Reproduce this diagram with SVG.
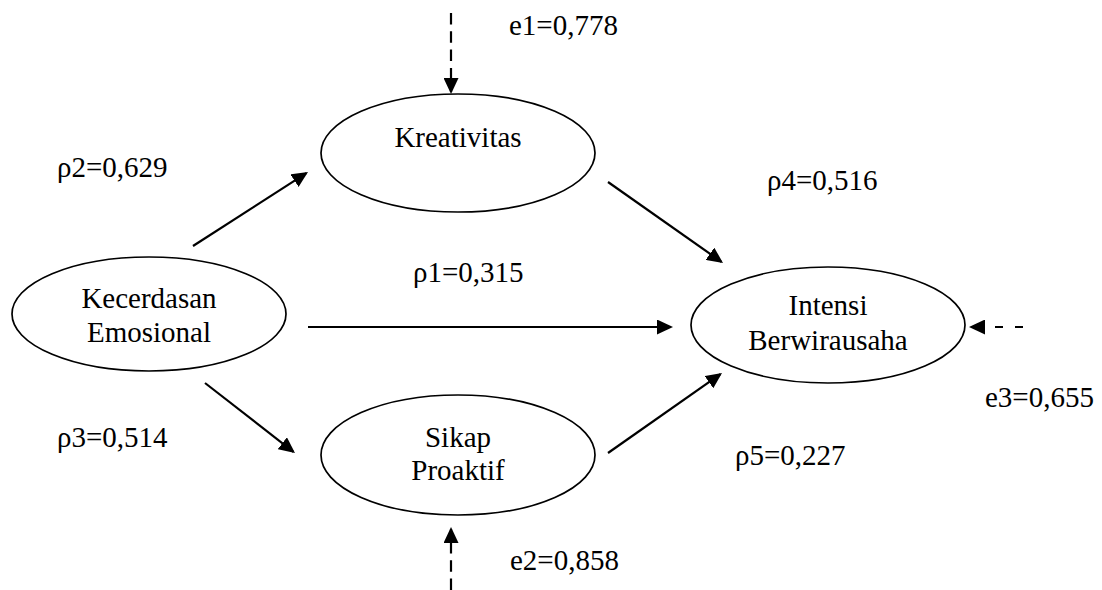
<svg xmlns="http://www.w3.org/2000/svg" width="1102" height="590" viewBox="0 0 1102 590">
<style>
  .node ellipse { fill: #fff; stroke: #000; stroke-width: 1.7; }
  text { font-family: 'Liberation Serif', 'DejaVu Serif', serif; font-size: 29px; fill: #000; }
  .c { text-anchor: middle; }
  .edge { stroke: #000; stroke-width: 2.2; fill: none; marker-end: url(#ah); }
  .dash { stroke-dasharray: 11.5 6.8; }
</style>
<defs>
  <marker id="ah" markerUnits="userSpaceOnUse" markerWidth="16" markerHeight="15" refX="14" refY="7.5" orient="auto" viewBox="0 0 16 15">
    <path d="M0,0 L16,7.5 L0,15 z" fill="#000"/>
  </marker>
</defs>
<rect width="1102" height="590" fill="#fff"/>
<g id="connectors">
  <line class="edge" x1="193" y1="246" x2="306.3" y2="173.1"/>
  <line class="edge" x1="608" y1="182" x2="721.4" y2="261.8"/>
  <line class="edge" x1="308" y1="327" x2="671" y2="327"/>
  <line class="edge" x1="205" y1="383" x2="293.4" y2="451.8"/>
  <line class="edge" x1="608" y1="453" x2="720.4" y2="374.1"/>
  <line class="edge dash" x1="451" y1="13" x2="451" y2="92"/>
  <line class="edge" style="stroke-dasharray:8 12" x1="1023" y1="327" x2="971" y2="327"/>
  <line class="edge dash" x1="451" y1="590" x2="451" y2="529"/>
</g>
<g id="kreativitas" class="node">
  <ellipse cx="458" cy="153" rx="137" ry="59"/>
  <text class="c" x="458" y="147" font-family="Liberation Serif, serif">Kreativitas</text>
</g>
<g id="kecerdasan" class="node">
  <ellipse cx="149" cy="314" rx="137" ry="57"/>
  <text class="c" x="149" y="308">Kecerdasan</text>
  <text class="c" x="149" y="342">Emosional</text>
</g>
<g id="intensi" class="node">
  <ellipse cx="828" cy="325" rx="137" ry="58"/>
  <text class="c" x="828" y="315">Intensi</text>
  <text class="c" x="828" y="350">Berwirausaha</text>
</g>
<g id="sikap" class="node">
  <ellipse cx="458" cy="455" rx="137" ry="60"/>
  <text class="c" x="458" y="447">Sikap</text>
  <text class="c" x="458" y="480">Proaktif</text>
</g>
<g id="labels">
  <text x="509" y="35">e1=0,778</text>
  <text x="57" y="177">ρ2=0,629</text>
  <text x="767" y="190">ρ4=0,516</text>
  <text x="413" y="282">ρ1=0,315</text>
  <text x="985" y="407">e3=0,655</text>
  <text x="57" y="447">ρ3=0,514</text>
  <text x="735" y="465">ρ5=0,227</text>
  <text x="510" y="570">e2=0,858</text>
</g>
</svg>
